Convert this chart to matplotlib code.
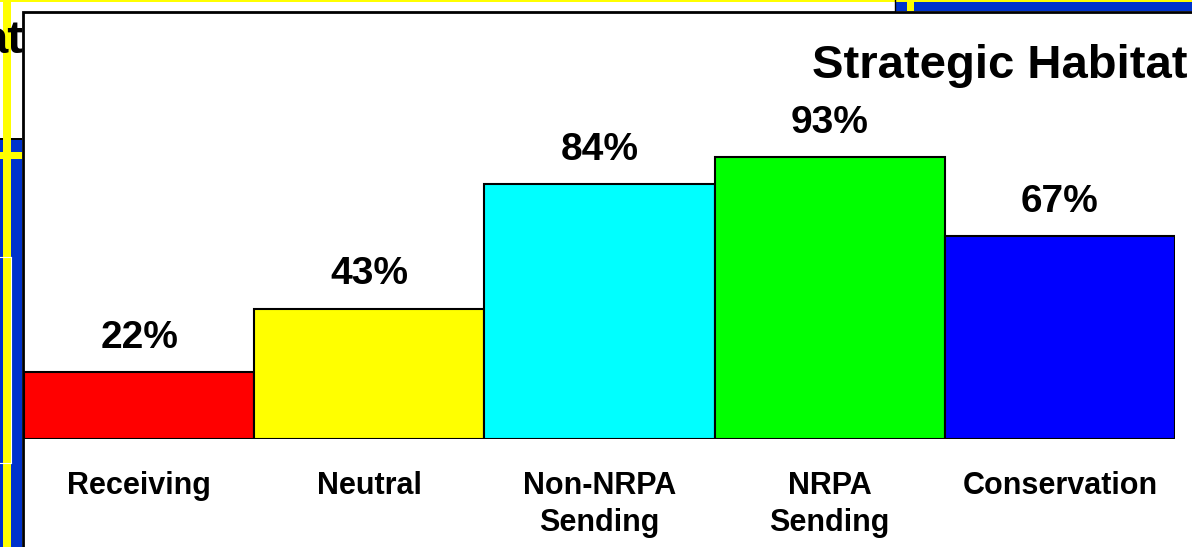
import matplotlib.pyplot as plt
from matplotlib.patches import Rectangle

plt.rcParams['font.family'] = ['Liberation Sans', 'DejaVu Sans']

categories = ['Receiving', 'Neutral', 'Non-NRPA\nSending', 'NRPA\nSending', 'Conservation']
values = [22, 43, 84, 93, 67]
colors = ['#ff0000', '#ffff00', '#00ffff', '#00ff00', '#0000ff']
title = 'Strategic Habitat'

W, H = 1192, 547
fig = plt.figure(figsize=(W / 100, H / 100), dpi=100)
fig.patch.set_facecolor('white')

# slide background pieces, in pixel coordinates
bg = fig.add_axes([0, 0, 1, 1], zorder=0)
bg.set_xlim(0, W)
bg.set_ylim(H, 0)
bg.axis('off')
blue = '#0033cc'
yel = '#ffff00'
bg.add_patch(Rectangle((0, 140), 22, H - 140, color=blue, lw=0))
bg.add_patch(Rectangle((0, 137.5), 22, 2.5, color='black', lw=0))
bg.add_patch(Rectangle((0, 152), 22, 7, color=yel, lw=0))
bg.add_patch(Rectangle((3.3, 0), 7.3, H, color=yel, lw=0))
bg.plot([11.3, 11.3], [257, 463], color='white', lw=0.8)
bg.plot([0, 11.3], [257, 257], color='white', lw=0.8)
bg.plot([0, 11.3], [463, 463], color='white', lw=0.8)
bg.add_patch(Rectangle((896, 0), W - 896, 11, color=blue, lw=0))
bg.add_patch(Rectangle((907, 0), 7, 11, color=yel, lw=0))
bg.plot([895, 895], [0, 11], color='black', lw=1)
bg.add_patch(Rectangle((0, 0), W, 1.5, color=yel, lw=0))
# end of the slide title, mostly hidden behind the chart panel
bg.text(24, 53, 'at', fontsize=34, fontweight='bold', ha='right', va='baseline', zorder=1)
bg.add_patch(Rectangle((23, 12), W + 20, H + 20, facecolor='white',
                       edgecolor='black', lw=2, zorder=2))

# the bar chart
ax = fig.add_axes([24 / W, 1 - 439 / H, (1175 - 24) / W, (439 - 12) / H], zorder=1)
ax.patch.set_alpha(0)
x = range(len(categories))
ax.bar(x, values, width=1.0, color=colors, edgecolor='black', linewidth=1.5)
for i, v in zip(x, values):
    ax.text(i, v + 8, f'{v}%', ha='center', va='baseline',
            fontsize=28, fontweight='bold')
ax.set_xlim(-0.5, 4.5)
ax.set_ylim(0, 427 / 3.03)
ax.set_xticks(list(x))
ax.set_xticklabels(categories, fontsize=22, fontweight='bold', linespacing=1.29)
ax.tick_params(axis='x', length=0, pad=23)
ax.set_yticks([])
for s in ax.spines.values():
    s.set_visible(False)

fig.text(1188 / W, 1 - 78 / H, title, ha='right', va='baseline',
         fontsize=34, fontweight='bold')

fig.savefig('out.png', dpi=100)
